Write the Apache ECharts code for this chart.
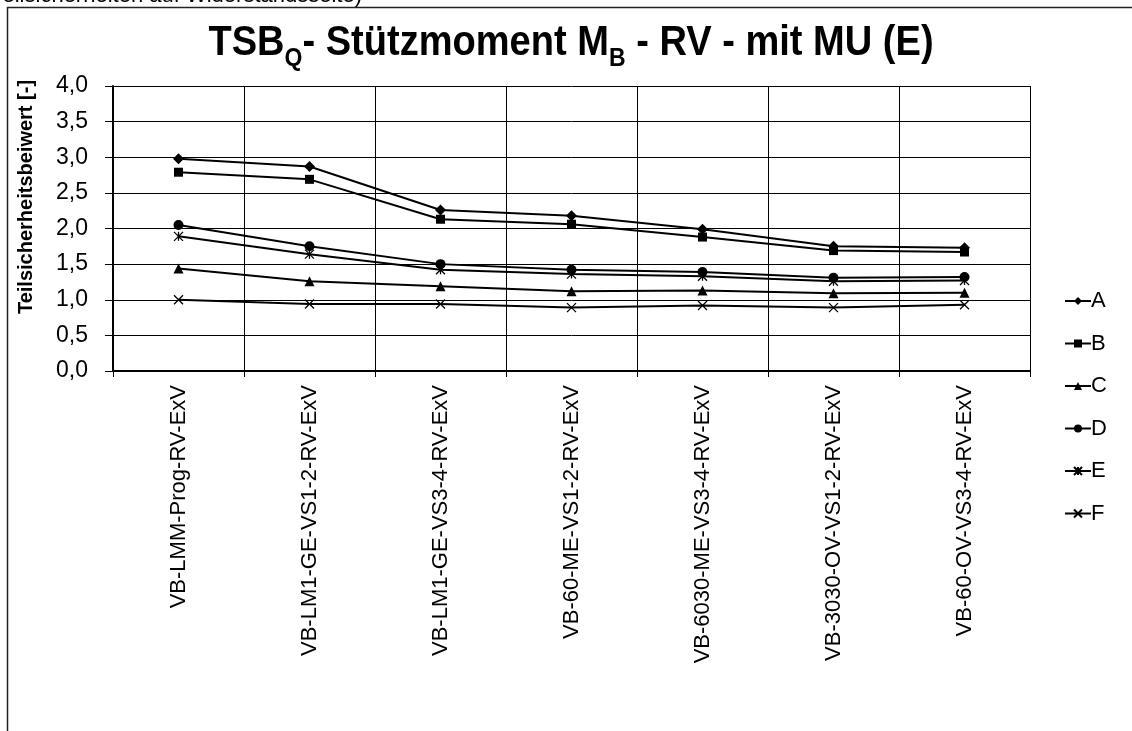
<!DOCTYPE html>
<html>
<head>
<meta charset="utf-8">
<script src="https://cdn.jsdelivr.net/npm/echarts@6/dist/echarts.min.js"></script>
<style>
html,body{margin:0;padding:0;background:#fff;}
#chart{width:1132px;height:731px;}
</style>
</head>
<body>
<div id="chart"></div>
<script>
const categories = ['VB-LMM-Prog-RV-ExV','VB-LM1-GE-VS1-2-RV-ExV','VB-LM1-GE-VS3-4-RV-ExV','VB-60-ME-VS1-2-RV-ExV','VB-6030-ME-VS3-4-RV-ExV','VB-3030-OV-VS1-2-RV-ExV','VB-60-OV-VS3-4-RV-ExV'];
const seriesA = [2.98, 2.87, 2.26, 2.18, 1.99, 1.75, 1.73];
const seriesB = [2.79, 2.69, 2.13, 2.06, 1.88, 1.69, 1.67];
const seriesC = [1.44, 1.26, 1.19, 1.12, 1.13, 1.09, 1.10];
const seriesD = [2.05, 1.75, 1.50, 1.42, 1.39, 1.31, 1.32];
const seriesE = [1.89, 1.64, 1.42, 1.36, 1.33, 1.26, 1.27];
const seriesF = [1.00, 0.94, 0.94, 0.89, 0.92, 0.89, 0.93];
const yTicks = [0, 0.5, 1, 1.5, 2, 2.5, 3, 3.5, 4];
const legendNames = ['A','B','C','D','E','F'];

const FONT = '"Liberation Sans", Arial, sans-serif';
const chart = echarts.init(document.getElementById('chart'));

function mk(name, data, symbol, size, stroke) {
  return {
    name: name, type: 'line', data: data,
    symbol: symbol, symbolSize: size,
    lineStyle: {color: '#000', width: 2},
    itemStyle: stroke ? {color: 'none', borderColor: '#000', borderWidth: 1.3} : {color: '#000', borderWidth: 0},
    emphasis: {disabled: true},
    animation: false
  };
}

chart.setOption({
  backgroundColor: '#fff',
  animation: false,
  graphic: [
    {type: 'rect', shape: {x: 7.5, y: 7.5, width: 1300, height: 900}, style: {fill: 'none', stroke: '#222', lineWidth: 1.5}, silent: true},
    {type: 'text', x: 362, y: 7, style: {text: '(Teilsicherheiten auf Widerstandsseite)', font: '22px ' + FONT, fill: '#000', align: 'right', verticalAlign: 'bottom'}, silent: true},
    {type: 'text', x: 571, y: 47, scaleX: 0.885, silent: true,
      style: {
        text: '{m|TSB}{s|Q}{m|- Stützmoment M}{s|B}{m| - RV - mit MU (E)}',
        align: 'center', verticalAlign: 'middle',
        rich: {
          m: {fontFamily: FONT, fontWeight: 'bold', fontSize: 43, fill: '#000', color: '#000', lineHeight: 50, verticalAlign: 'top'},
          s: {fontFamily: FONT, fontWeight: 'bold', fontSize: 26, fill: '#000', color: '#000', lineHeight: 28, verticalAlign: 'bottom'}
        }
      }
    },
    {type: 'text', x: 26, y: 197, rotation: Math.PI / 2, silent: true,
      style: {text: 'Teilsicherheitsbeiwert [-]', font: 'bold 20px ' + FONT, fill: '#000', align: 'center', verticalAlign: 'middle'}
    }
  ],
  legend: {
    orient: 'vertical', left: 1059, top: 285,
    itemWidth: 26, itemHeight: 10, itemGap: 20.5,
    textStyle: {fontFamily: FONT, fontSize: 22, color: '#000', padding: [0,0,0,-5]},
    data: legendNames
  },
  grid: {left: 113, right: 102, top: 86, bottom: 360},
  xAxis: {
    type: 'category', data: categories, boundaryGap: true,
    axisLine: {lineStyle: {color: '#000', width: 2}},
    axisTick: {show: true, length: 6, lineStyle: {color: '#000', width: 1}},
    splitLine: {show: true, lineStyle: {color: '#000', width: 1}},
    axisLabel: {rotate: 90, fontFamily: FONT, fontSize: 22, color: '#000', margin: 14, interval: 0}
  },
  yAxis: {
    type: 'value', min: 0, max: 4, interval: 0.5,
    axisLine: {show: true, lineStyle: {color: '#000', width: 2}},
    axisTick: {show: true, length: 8, lineStyle: {color: '#000', width: 1}},
    splitLine: {show: true, lineStyle: {color: '#000', width: 1}},
    axisLabel: {fontFamily: FONT, fontSize: 23, color: '#000', margin: 25,
      formatter: v => (yTicks.indexOf(v) >= 0 ? v.toFixed(1).replace('.', ',') : '')}
  },
  series: [
    mk('A', seriesA, 'diamond', 11, false),
    mk('B', seriesB, 'rect', 9, false),
    mk('C', seriesC, 'triangle', 10, false),
    mk('D', seriesD, 'circle', 10, false),
    mk('E', seriesE, 'path://M0,0L10,10M10,0L0,10M5,0L5,10', 9, true),
    mk('F', seriesF, 'path://M0,0L10,10M10,0L0,10', 9, true)
  ]
});
</script>
</body>
</html>
